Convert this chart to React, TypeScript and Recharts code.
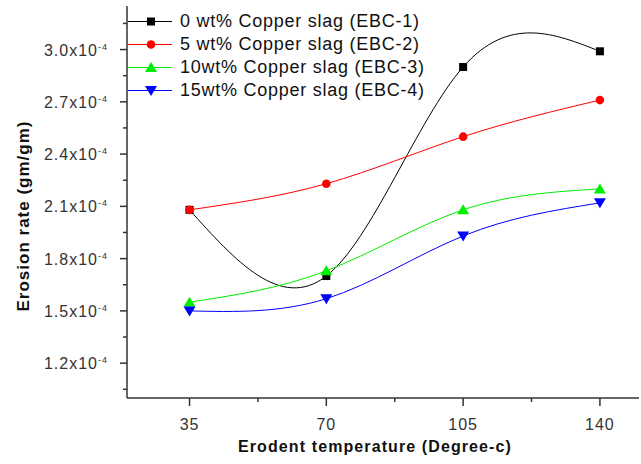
import React from 'react';
import { LineChart, Line, XAxis, YAxis, Legend } from 'recharts';

// erodent temperature (Degree-c)
const temperatures = [35, 70, 105, 140];

// erosion rate, in units of 1e-4 gm/gm
const ebc1 = [2.08, 1.7, 2.9, 2.99];
const ebc2 = [2.08, 2.23, 2.5, 2.71];
const ebc3 = [1.55, 1.73, 2.08, 2.2];
const ebc4 = [1.5, 1.57, 1.93, 2.12];

const xMajorTicks = [35, 70, 105, 140];
const xMinorTicks = [52.5, 87.5, 122.5];
const yMajorTicks = [1.2, 1.5, 1.8, 2.1, 2.4, 2.7, 3.0];
const yMinorTicks = [1.05, 1.35, 1.65, 1.95, 2.25, 2.55, 2.85, 3.15];

const series = [
  { key: 'ebc1', name: '0 wt% Copper slag (EBC-1)', color: '#000000', shape: 'square' },
  { key: 'ebc2', name: '5 wt% Copper slag (EBC-2)', color: '#ff0000', shape: 'circle' },
  { key: 'ebc3', name: '10wt% Copper slag (EBC-3)', color: '#00ee00', shape: 'up' },
  { key: 'ebc4', name: '15wt% Copper slag (EBC-4)', color: '#0000ff', shape: 'down' },
];

const data = temperatures.map((t, i) => ({
  t,
  ebc1: ebc1[i],
  ebc2: ebc2[i],
  ebc3: ebc3[i],
  ebc4: ebc4[i],
}));

const FONT = '"Liberation Sans", Arial, sans-serif';
const AXIS_COLOR = '#333';

const xTicks = [...xMajorTicks, ...xMinorTicks].sort((a, b) => a - b);
const yTicks = [...yMajorTicks, ...yMinorTicks].sort((a, b) => a - b);

const isMajor = (list: number[], v: number) => list.some(m => Math.abs(m - v) < 1e-6);

const Marker = ({ cx, cy, shape, color }: any) => {
  if (cx == null || cy == null) return null;
  if (shape === 'square') {
    return <rect x={cx - 4} y={cy - 4} width={8} height={8} fill={color} />;
  }
  if (shape === 'circle') {
    return <circle cx={cx} cy={cy} r={4.3} fill={color} />;
  }
  if (shape === 'up') {
    return <polygon points={`${cx - 6},${cy + 4.5} ${cx + 6},${cy + 4.5} ${cx},${cy - 5.5}`} fill={color} />;
  }
  return <polygon points={`${cx - 6},${cy - 4.5} ${cx + 6},${cy - 4.5} ${cx},${cy + 5.5}`} fill={color} />;
};

const XTick = ({ x, y, payload }: any) => {
  const major = isMajor(xMajorTicks, payload.value);
  return (
    <g>
      <line x1={x} y1={y} x2={x} y2={y + (major ? 8 : 4)} stroke={AXIS_COLOR} strokeWidth={1.5} />
      {major && (
        <text x={x} y={y + 32} textAnchor="middle" fontSize={16} fontFamily={FONT} fill="#333" letterSpacing={1}>
          {payload.value}
        </text>
      )}
    </g>
  );
};

const YTick = ({ x, y, payload }: any) => {
  const major = isMajor(yMajorTicks, payload.value);
  return (
    <g>
      <line x1={x} y1={y} x2={x - (major ? 7 : 4)} y2={y} stroke={AXIS_COLOR} strokeWidth={1.5} />
      {major && (
        <text x={x - 19} y={y + 6} textAnchor="end" fontSize={16} fontFamily={FONT} fill="#333" letterSpacing={1}>
          {payload.value.toFixed(1)}x10
          <tspan dy={-6} fontSize={9}>-4</tspan>
        </text>
      )}
    </g>
  );
};

const LegendContent = () => (
  <div style={{ fontFamily: FONT, fontSize: 18, color: '#111', letterSpacing: 0.75 }}>
    {series.map(s => (
      <div key={s.key} style={{ display: 'flex', alignItems: 'center', height: 23, whiteSpace: 'nowrap' }}>
        <svg width={44} height={23} style={{ display: 'block' }}>
          <line x1={0} y1={11.5} x2={44} y2={11.5} stroke={s.color} strokeWidth={1} />
          <Marker cx={23} cy={11.5} shape={s.shape} color={s.color} />
        </svg>
        <span style={{ marginLeft: 8 }}>{s.name}</span>
      </div>
    ))}
  </div>
);

export default function App() {
  return (
    <div style={{ position: 'absolute', left: 0, top: 0, width: 641, height: 464, background: '#fff' }}>
      <LineChart width={641} height={464} data={data} margin={{ top: 6, right: 2, left: 0, bottom: 0 }}>
        <XAxis
          dataKey="t"
          type="number"
          domain={[19, 150]}
          ticks={xTicks}
          interval={0}
          tick={<XTick />}
          tickLine={false}
          tickSize={0}
          tickMargin={0}
          height={66}
          axisLine={{ stroke: AXIS_COLOR, strokeWidth: 1.5 }}
          label={{
            content: ({ viewBox }: any) => (
              <text
                x={viewBox.x + viewBox.width / 2 - 8}
                y={viewBox.y + 54}
                textAnchor="middle"
                fontSize={16}
                fontWeight="bold"
                fontFamily={FONT}
                letterSpacing={1.1}
                fill="#111"
              >
                Erodent temperature (Degree-c)
              </text>
            ),
          }}
        />
        <XAxis
          xAxisId="top"
          orientation="top"
          type="number"
          domain={[19, 150]}
          tick={false}
          tickLine={false}
          height={0}
          axisLine={{ stroke: AXIS_COLOR, strokeWidth: 1.5 }}
        />
        <YAxis
          type="number"
          domain={[1.0, 3.25]}
          ticks={yTicks}
          interval={0}
          tick={<YTick />}
          tickLine={false}
          tickSize={0}
          tickMargin={0}
          width={127}
          axisLine={{ stroke: AXIS_COLOR, strokeWidth: 1.5 }}
          label={{
            content: ({ viewBox }: any) => {
              const cx = 29;
              const cy = viewBox.y + viewBox.height / 2 + 14;
              return (
                <text
                  x={cx}
                  y={cy}
                  transform={`rotate(-90, ${cx}, ${cy})`}
                  textAnchor="middle"
                  fontSize={17}
                  fontWeight="bold"
                  fontFamily={FONT}
                  letterSpacing={1}
                  fill="#111"
                >
                  Erosion rate (gm/gm)
                </text>
              );
            },
          }}
        />
        <YAxis
          yAxisId="right"
          orientation="right"
          type="number"
          domain={[1.0, 3.25]}
          tick={false}
          tickLine={false}
          width={0}
          axisLine={{ stroke: AXIS_COLOR, strokeWidth: 1.5 }}
        />
        <Legend
          layout="vertical"
          align="center"
          verticalAlign="middle"
          content={<LegendContent />}
          wrapperStyle={{ top: 10, left: 128, width: 320 }}
        />
        {series.map(s => (
          <Line
            key={s.key}
            type="natural"
            dataKey={s.key}
            name={s.name}
            stroke={s.color}
            strokeWidth={1}
            isAnimationActive={false}
            dot={(p: any) => <Marker key={`${s.key}-${p.index}`} cx={p.cx} cy={p.cy} shape={s.shape} color={s.color} />}
            activeDot={false}
          />
        ))}
      </LineChart>
    </div>
  );
}
